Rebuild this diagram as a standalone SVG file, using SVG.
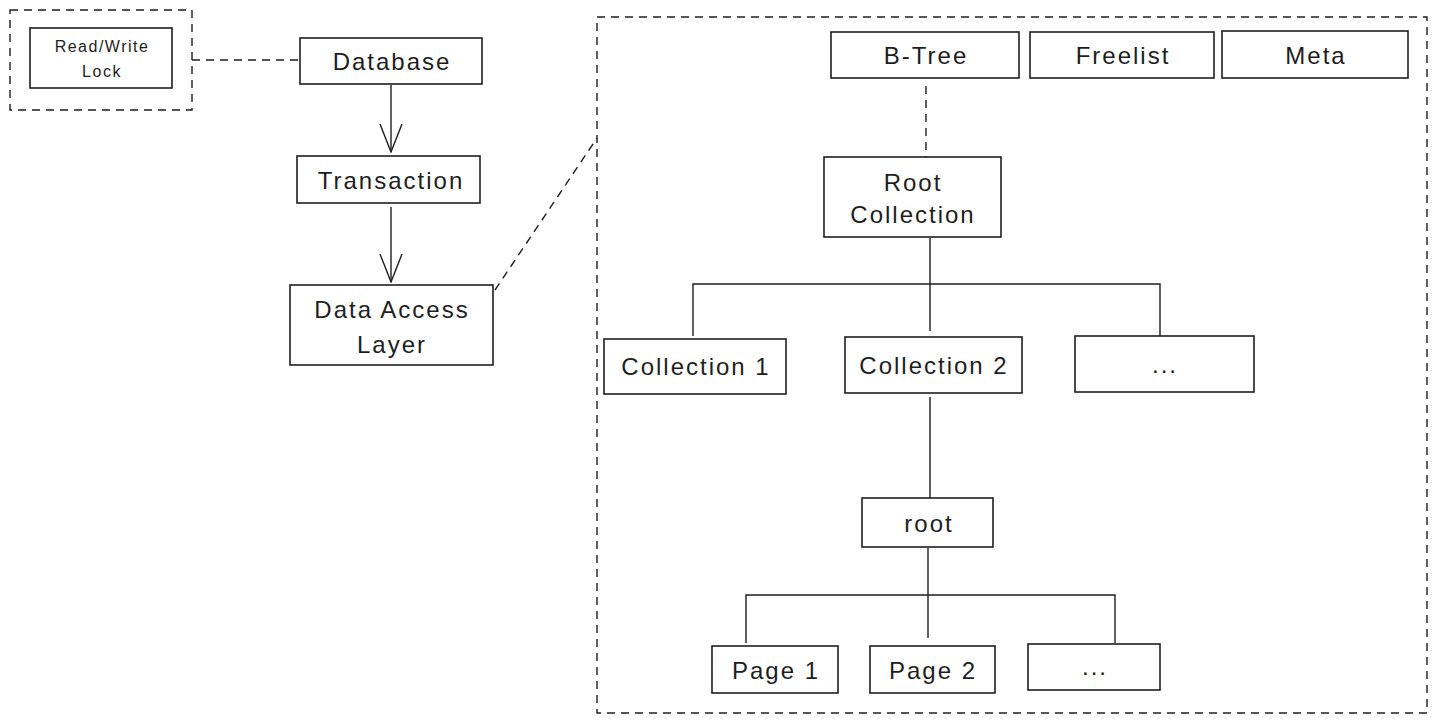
<svg xmlns="http://www.w3.org/2000/svg" width="1436" height="722" viewBox="0 0 1436 722">
<defs>
<style>
.box{fill:#fff;stroke:#1e1e1e;stroke-width:1.6}
.dash{fill:none;stroke:#1e1e1e;stroke-width:1.4;stroke-dasharray:8 6}
.ln{fill:none;stroke:#1e1e1e;stroke-width:1.4}
.t{font-family:"Liberation Sans",Arial,sans-serif;fill:#1e1e1e;text-anchor:middle;dominant-baseline:central}
.s22{font-size:24px;letter-spacing:2px}
.s16{font-size:16px;letter-spacing:1.5px}
</style>
<marker id="arr" viewBox="0 0 30 24" refX="29" refY="12" markerWidth="30" markerHeight="24" markerUnits="userSpaceOnUse" orient="auto">
<path d="M1,1 L29,12 L1,23" fill="none" stroke="#1e1e1e" stroke-width="1.4"/>
</marker>
</defs>
<rect width="1436" height="722" fill="#fff"/>

<g id="connectors">
<path class="dash" d="M192,60 L300,60"/>
<path class="ln" d="M391,85 L391,152" marker-end="url(#arr)"/>
<path class="ln" d="M391,207 L391,282" marker-end="url(#arr)"/>
<path class="dash" d="M495,290 L597,138"/>
<path class="dash" d="M926,86 L926,157"/>
<path class="ln" d="M930,238 L930,284 M693,336 L693,284 L1160,284 L1160,336 M930,284 L930,331"/>
<path class="ln" d="M930,397 L930,498"/>
<path class="ln" d="M928,548 L928,595 M746,643 L746,595 L1115,595 L1115,643 M928,595 L928,638"/>
</g>

<g id="lock-group"><rect class="dash" x="10" y="10" width="182" height="100"/></g>
<g id="btree-group"><rect class="dash" x="597" y="17" width="830" height="696"/></g>

<g id="rwlock"><rect class="box" x="30" y="28" width="142" height="60"/>
<text class="t s16" x="102" y="46">Read/Write</text><text class="t s16" x="102" y="71">Lock</text></g>

<g id="database"><rect class="box" x="300" y="38" width="182" height="46"/>
<text class="t s22" x="392" y="61">Database</text></g>

<g id="transaction"><rect class="box" x="297" y="156" width="183" height="47"/>
<text class="t s22" x="391" y="180">Transaction</text></g>

<g id="dal"><rect class="box" x="290" y="285" width="203" height="80"/>
<text class="t s22" x="392" y="309">Data Access</text><text class="t s22" x="392" y="344">Layer</text></g>

<g id="btree"><rect class="box" x="831" y="32" width="188" height="46"/>
<text class="t s22" x="926" y="55">B-Tree</text></g>

<g id="freelist"><rect class="box" x="1030" y="32" width="184" height="46"/>
<text class="t s22" x="1123" y="55">Freelist</text></g>

<g id="meta"><rect class="box" x="1222" y="31" width="186" height="47"/>
<text class="t s22" x="1316" y="55">Meta</text></g>

<g id="rootcollection"><rect class="box" x="824" y="157" width="177" height="80"/>
<text class="t s22" x="913" y="182">Root</text><text class="t s22" x="913" y="214">Collection</text></g>

<g id="collection1"><rect class="box" x="604" y="339" width="182" height="55"/>
<text class="t s22" x="696" y="366">Collection 1</text></g>

<g id="collection2"><rect class="box" x="845" y="337" width="177" height="56"/>
<text class="t s22" x="934" y="365">Collection 2</text></g>

<g id="collmore"><rect class="box" x="1075" y="336" width="179" height="56"/>
<text class="t s22" x="1165" y="364">...</text></g>

<g id="root"><rect class="box" x="862" y="498" width="131" height="49"/>
<text class="t s22" x="929" y="523">root</text></g>

<g id="page1"><rect class="box" x="712" y="646" width="126" height="47"/>
<text class="t s22" x="776" y="670">Page 1</text></g>

<g id="page2"><rect class="box" x="870" y="646" width="125" height="47"/>
<text class="t s22" x="933" y="670">Page 2</text></g>

<g id="pagemore"><rect class="box" x="1028" y="644" width="132" height="46"/>
<text class="t s22" x="1095" y="666">...</text></g>
</svg>
